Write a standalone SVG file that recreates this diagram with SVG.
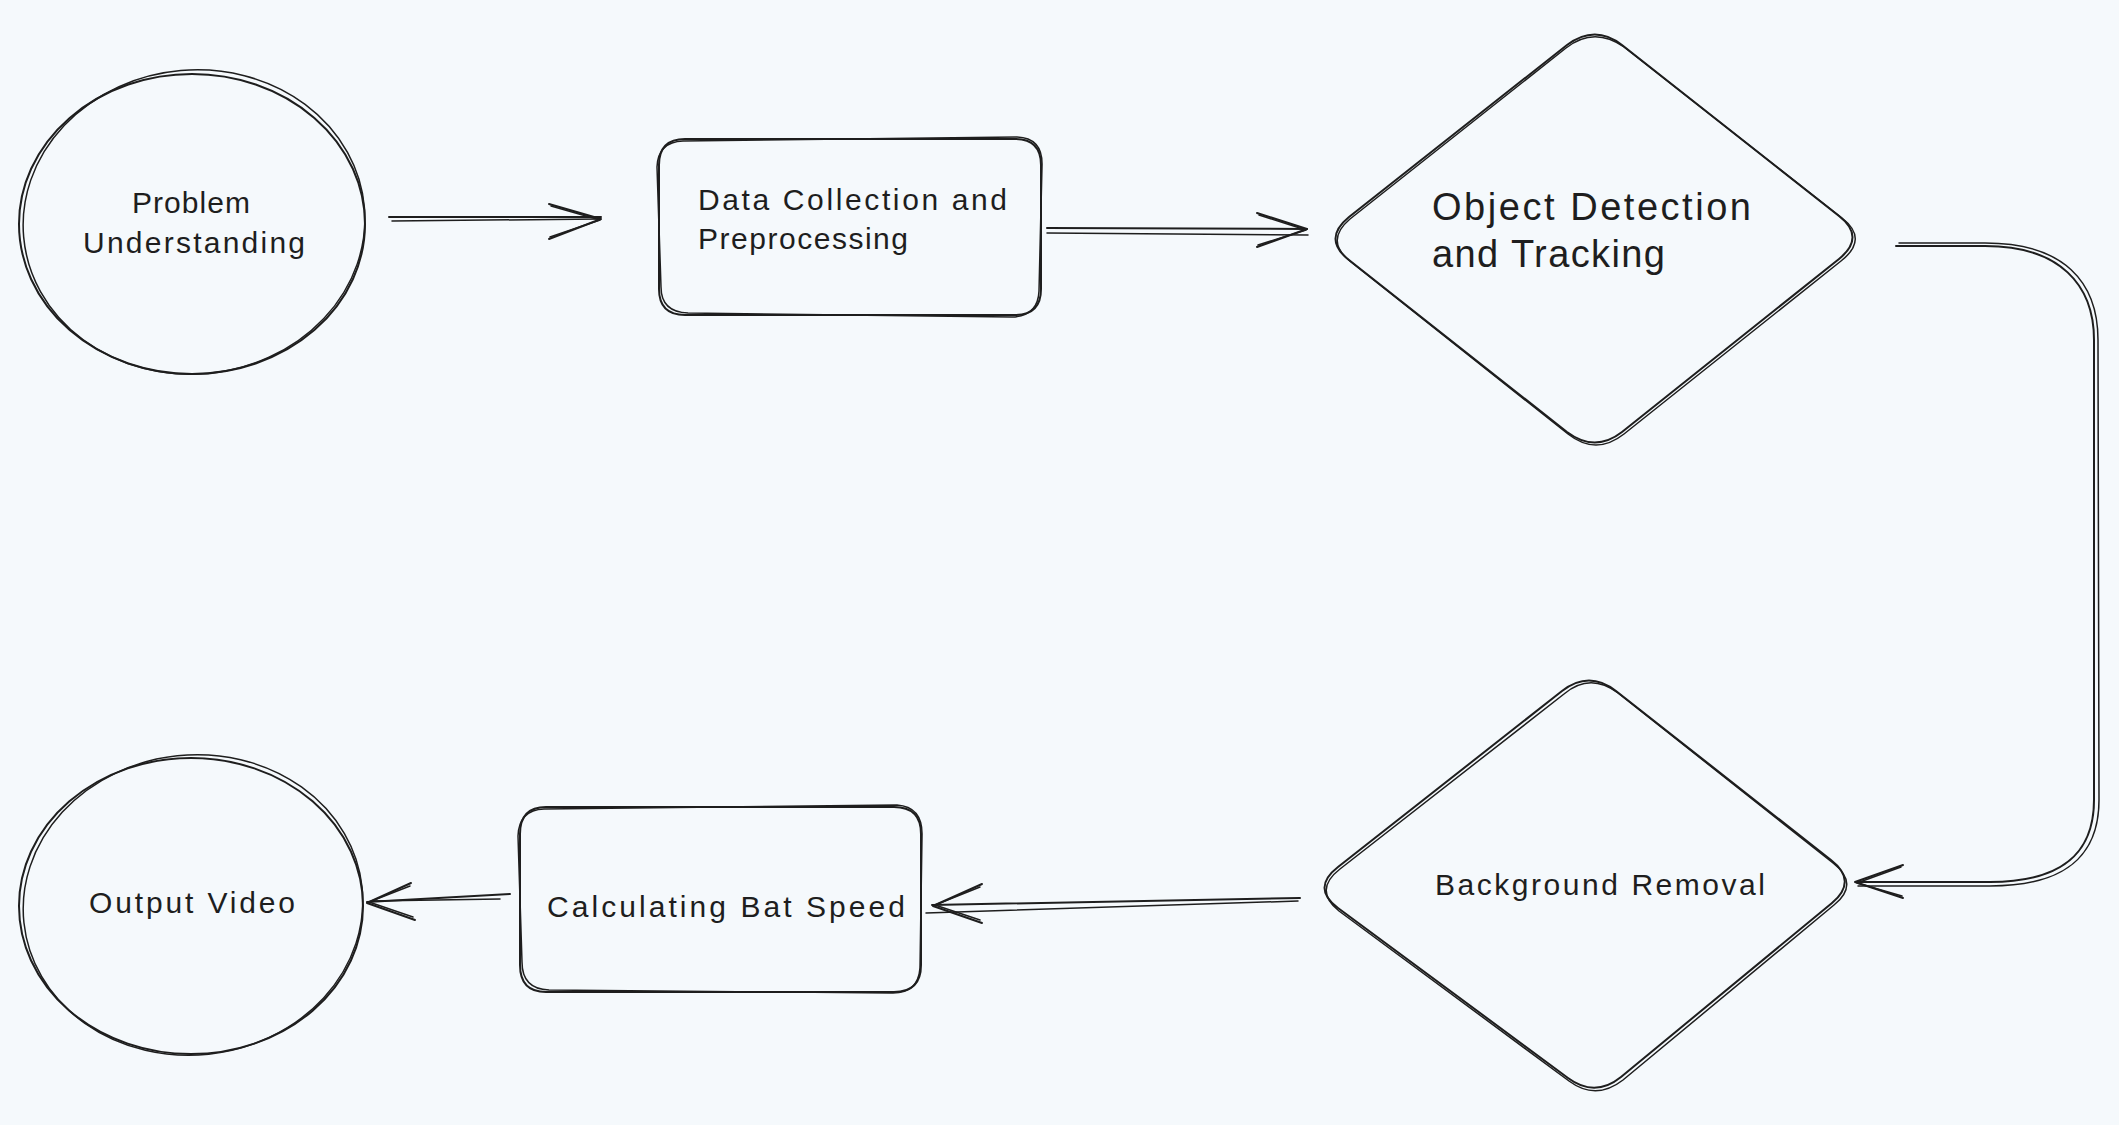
<svg xmlns="http://www.w3.org/2000/svg" width="2119" height="1125" viewBox="0 0 2119 1125">
<style>
.s{fill:none;stroke:#1e1e1e;stroke-width:2;stroke-linecap:round;stroke-linejoin:round}
.t{stroke-width:1.5}
.lbl{font-family:"Liberation Sans",Arial,sans-serif;fill:#1e1e1e;font-size:30px}
.big{font-size:38px}
</style>
<rect width="2119" height="1125" fill="#f5f9fc"/>

<g id="problem-understanding">
<ellipse class="s" cx="192" cy="224" rx="173" ry="150"/>
<ellipse class="s t" cx="194" cy="222" rx="171" ry="152" transform="rotate(-5 194 222)"/>
<text class="lbl" x="191" y="213" text-anchor="middle" textLength="118">Problem</text>
<text class="lbl" x="194" y="253" text-anchor="middle" textLength="222">Understanding</text>
</g>

<g id="data-collection">
<path class="s" d="M685,139 L1015,139 Q1041,139 1041,165 L1041,289 Q1041,315 1015,315 L685,315 Q659,315 659,289 L659,165 Q659,139 685,139 Z"/>
<path class="s t" d="M683,141 L1017,137 Q1043,138 1042,166 L1039,291 Q1038,316 1012,317 L688,313 Q661,312 661,287 L657,167 Q658,142 683,141 Z"/>
<text class="lbl" x="698" y="210" textLength="309">Data Collection and</text>
<text class="lbl" x="698" y="249" textLength="210">Preprocessing</text>
</g>

<g id="object-detection">
<path class="s" d="M1622,45 L1839,216 Q1866,237 1839,259 L1622,432 Q1595,453 1567,432 L1349,260 Q1322,239 1349,217 L1567,45 Q1595,24 1622,45 Z"/>
<path class="s t" d="M1624,47 L1842,218 Q1869,239 1841,261 L1624,434 Q1596,456 1568,434 L1351,262 Q1324,241 1350,219 L1566,48 Q1594,26 1624,47 Z"/>
<text class="lbl big" x="1432" y="220" textLength="319">Object Detection</text>
<text class="lbl big" x="1432" y="267" textLength="233">and Tracking</text>
</g>

<g id="background-removal">
<path class="s" d="M1616,691 L1831,860 Q1858,881 1832,903 L1621,1077 Q1595,1098 1568,1078 L1338,908 Q1311,888 1338,867 L1562,691 Q1589,670 1616,691 Z"/>
<path class="s t" d="M1618,693 L1833,863 Q1860,884 1834,905 L1623,1080 Q1596,1101 1569,1081 L1339,911 Q1313,890 1340,869 L1564,694 Q1590,672 1618,693 Z"/>
<text class="lbl" x="1435" y="895" textLength="330">Background Removal</text>
</g>

<g id="calculating-bat-speed">
<path class="s" d="M546,807 L894,807 Q921,807 921,834 L921,965 Q921,992 894,992 L546,992 Q520,992 520,965 L520,834 Q520,807 546,807 Z"/>
<path class="s t" d="M544,809 L897,805 Q923,807 922,836 L920,968 Q918,994 891,993 L549,990 Q522,989 522,962 L518,836 Q519,810 544,809 Z"/>
<text class="lbl" x="547" y="917" textLength="358">Calculating Bat Speed</text>
</g>

<g id="output-video">
<ellipse class="s" cx="191" cy="906" rx="172" ry="148"/>
<ellipse class="s t" cx="193" cy="905" rx="170" ry="150" transform="rotate(-6 193 905)"/>
<text class="lbl" x="192" y="913" text-anchor="middle" textLength="206">Output Video</text>
</g>

<g id="connectors">
<path class="s" d="M389,217 L601,217"/>
<path class="s t" d="M392,221 L599,219"/>
<path class="s" d="M549,204 L601,219 L549,239"/>
<path class="s t" d="M551,206 L600,220 L550,237"/>

<path class="s" d="M1047,228 L1307,229"/>
<path class="s t" d="M1047,233 L1308,235"/>
<path class="s" d="M1257,213 L1307,229 L1257,247"/>
<path class="s t" d="M1259,215 L1306,230 L1258,245"/>

<path class="s" d="M1896,246 L1985,246 C2060,246 2094,285 2094,340 L2094,800 C2094,855 2060,882 1990,882 L1856,882"/>
<path class="s t" d="M1899,243 L1985,243 C2064,243 2098,282 2098,340 L2099,800 C2099,858 2063,886 1990,886 L1858,886"/>
<path class="s" d="M1903,865 L1855,882 L1903,898"/>
<path class="s t" d="M1901,867 L1857,883 L1902,896"/>

<path class="s" d="M1300,898 L932,905"/>
<path class="s t" d="M1298,901 L926,913"/>
<path class="s" d="M982,884 L933,906 L982,923"/>
<path class="s t" d="M980,887 L935,905 L980,920"/>

<path class="s" d="M510,894 L367,902"/>
<path class="s t" d="M500,899 L372,901"/>
<path class="s" d="M411,883 L367,903 L415,920"/>
<path class="s t" d="M410,886 L369,902 L413,917"/>
</g>
</svg>
